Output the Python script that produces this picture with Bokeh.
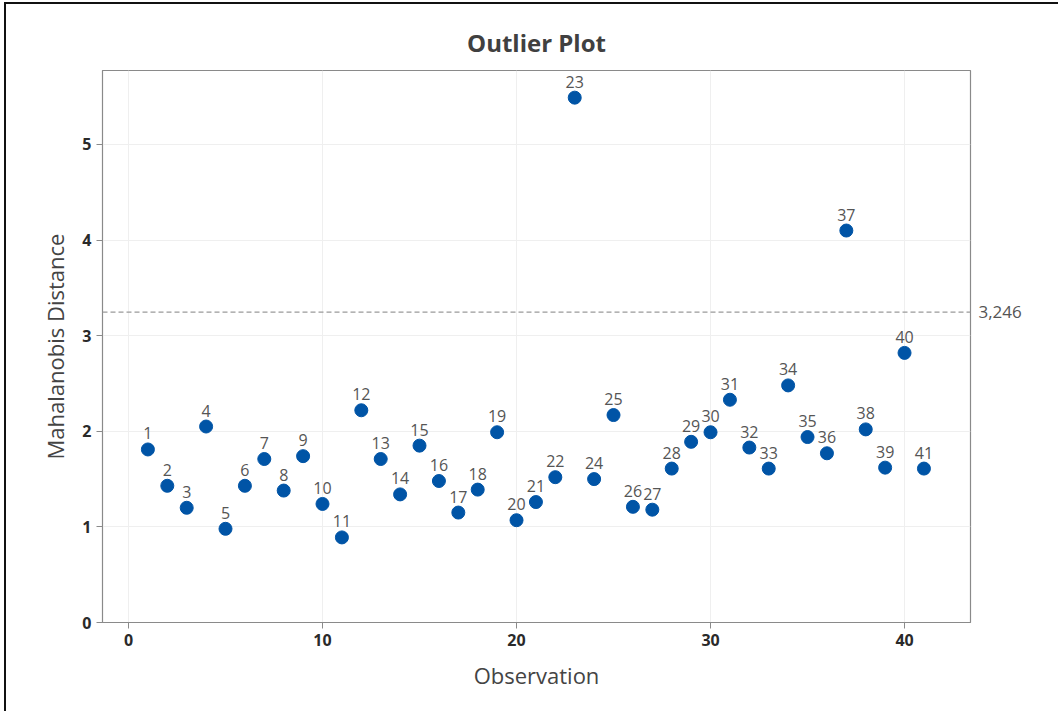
from bokeh.plotting import figure
from bokeh.models import (ColumnDataSource, Range1d, Span, LabelSet, FixedTicker,
                          LinearAxis)
from bokeh.core.properties import value
from bokeh.embed import file_html
from bokeh.resources import INLINE

# Mahalanobis distance for each observation
observations = list(range(1, 42))
distances = [
    1.81, 1.43, 1.20, 2.05, 0.98, 1.43, 1.71, 1.38, 1.74, 1.24,
    0.89, 2.22, 1.71, 1.34, 1.85, 1.48, 1.15, 1.39, 1.99, 1.07,
    1.26, 1.52, 5.49, 1.50, 2.17, 1.21, 1.18, 1.61, 1.89, 1.99,
    2.33, 1.83, 1.61, 2.48, 1.94, 1.77, 4.10, 2.02, 1.62, 2.82,
    1.61,
]
point_labels = [str(o) for o in observations]
cutoff = 3.246
cutoff_label = "3,246"
x_ticks = [0, 10, 20, 30, 40]
y_ticks = [0, 1, 2, 3, 4, 5]

FONT = "Open Sans"
BLUE = "#0054A6"

source = ColumnDataSource(dict(x=observations, y=distances, lab=point_labels))

p = figure(
    width=1054, height=709,
    x_range=Range1d(-1.34, 43.4), y_range=Range1d(0, 5.774),
    output_backend="svg", toolbar_location=None,
    title="Outlier Plot",
    min_border_left=96, min_border_right=90,
    min_border_top=66, min_border_bottom=91,
)
p.styles = {
    "margin-left": "4px", "margin-top": "2px",
    "border-left": "2px solid #111", "border-top": "2px solid #111",
}

p.title.text_font = FONT
p.title.text_font_size = "24px"
p.title.text_font_style = "bold"
p.title.text_color = "#404040"
p.title.align = "center"
p.title.standoff = 24

p.outline_line_color = "#8a8a8a"
p.outline_line_width = 1.2
p.background_fill_color = "white"
p.border_fill_color = "white"

for ax in (p.xaxis[0], p.yaxis[0]):
    ax.axis_line_color = "#8a8a8a"
    ax.major_tick_line_color = "#8a8a8a"
    ax.major_tick_out = 6
    ax.major_tick_in = 0
    ax.minor_tick_line_color = None
    ax.major_label_text_font = FONT
    ax.major_label_text_font_size = "16px"
    ax.major_label_text_font_style = "bold"
    ax.major_label_text_color = "#2a2a2a"
    ax.axis_label_text_font = FONT
    ax.axis_label_text_font_size = "22px"
    ax.axis_label_text_font_style = "normal"
    ax.axis_label_text_color = "#444444"

p.xaxis.ticker = FixedTicker(ticks=x_ticks)
p.yaxis.ticker = FixedTicker(ticks=y_ticks)
p.xaxis.axis_label = "Observation"
p.yaxis.axis_label = "Mahalanobis Distance"
p.xaxis.major_label_standoff = 5
p.yaxis.major_label_standoff = 5
p.xaxis.axis_label_standoff = 11
p.yaxis.axis_label_standoff = 9

p.xgrid.ticker = FixedTicker(ticks=x_ticks)
p.ygrid.ticker = FixedTicker(ticks=y_ticks)
p.grid.grid_line_color = "#efefef"
p.grid.grid_line_width = 1

# reference cutoff line, with its value written beside the right edge
p.add_layout(Span(location=cutoff, dimension="width", line_color="#9a9a9a",
                  line_dash="5 3", line_width=1.3))
cut_axis = LinearAxis(ticker=FixedTicker(ticks=[cutoff]),
                      major_label_overrides={cutoff: cutoff_label})
cut_axis.axis_line_color = None
cut_axis.major_tick_line_color = None
cut_axis.minor_tick_line_color = None
cut_axis.major_label_standoff = 2
cut_axis.major_label_text_font = FONT
cut_axis.major_label_text_font_size = "17px"
cut_axis.major_label_text_color = "#555555"
p.add_layout(cut_axis, "right")

p.scatter("x", "y", source=source, size=13, color=BLUE, line_color=BLUE)

p.add_layout(LabelSet(x="x", y="y", text="lab", source=source,
                      y_offset=10, text_align="center", text_baseline="bottom",
                      text_font=value(FONT), text_font_size=value("16px"),
                      text_color="#555555"))

open("out.html", "w").write(file_html(p, INLINE))
